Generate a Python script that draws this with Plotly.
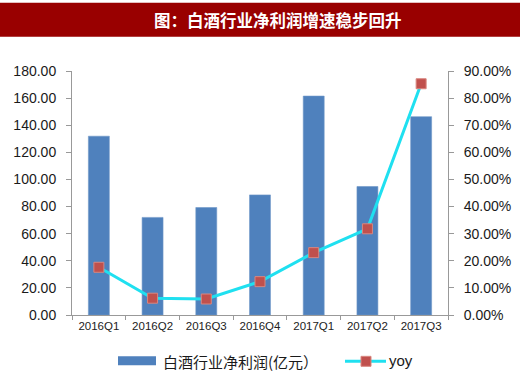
import plotly.graph_objects as go

categories = ["2016Q1", "2016Q2", "2016Q3", "2016Q4", "2017Q1", "2017Q2", "2017Q3"]
profit = [131.9, 72.0, 79.3, 88.6, 161.5, 94.8, 146.3]
yoy = [17.6, 6.2, 5.9, 12.3, 23.0, 31.8, 85.3]

title_text = "图：白酒行业净利润增速稳步回升"
bar_name = "白酒行业净利润(亿元）"
line_name = "yoy"

left_ticks = [0, 20, 40, 60, 80, 100, 120, 140, 160, 180]
right_ticks = [0, 10, 20, 30, 40, 50, 60, 70, 80, 90]

BAR_COLOR = "#4f81bd"
LINE_COLOR = "#1fe0f0"
MARK_COLOR = "#c0504d"

W, H = 520, 378
L, R, T, B = 72, 72, 70.5, 62.5
pw, ph = W - L - R, H - T - B

def px_x(x):
    return (x - L) / pw

def px_y(y):
    return (H - B - y) / ph

fig = go.Figure()
fig.add_trace(go.Bar(
    x=categories, y=profit, name=bar_name,
    marker=dict(color=BAR_COLOR, line=dict(color="#6f97c8", width=0.6)),
    yaxis="y",
))
fig.add_trace(go.Scatter(
    x=categories, y=yoy, name=line_name, mode="lines+markers",
    line=dict(color=LINE_COLOR, width=3),
    marker=dict(symbol="square", size=10, color=MARK_COLOR, line=dict(color="#d9867f", width=1)),
    yaxis="y2",
))

axis_font = dict(family="Arial, Liberation Sans", size=14, color="#1a1a1a")
leg_y = 362
shapes = [
    dict(type="rect", xref="paper", yref="paper",
         x0=px_x(0), x1=px_x(W), y0=px_y(36), y1=px_y(2),
         fillcolor="#990000", line=dict(width=0), layer="below"),
    # legend: bar swatch
    dict(type="rect", xref="paper", yref="paper",
         x0=px_x(118), x1=px_x(156), y0=px_y(366), y1=px_y(357),
         fillcolor=BAR_COLOR, line=dict(width=0)),
    # legend: line swatch
    dict(type="line", xref="paper", yref="paper",
         x0=px_x(345), x1=px_x(386), y0=px_y(leg_y), y1=px_y(leg_y),
         line=dict(color=LINE_COLOR, width=3)),
    dict(type="rect", xref="paper", yref="paper",
         x0=px_x(361), x1=px_x(371), y0=px_y(leg_y + 5), y1=px_y(leg_y - 5),
         fillcolor=MARK_COLOR, line=dict(color="#d9867f", width=1)),
]
annotations = [
    dict(text=f"<b>{title_text}</b>", xref="paper", yref="paper",
         x=px_x(278), y=px_y(19), xanchor="center", yanchor="middle",
         showarrow=False,
         font=dict(family="Noto Sans CJK SC", size=16.5, color="white")),
    dict(text=bar_name, xref="paper", yref="paper",
         x=px_x(161), y=px_y(leg_y), xanchor="left", yanchor="middle",
         showarrow=False,
         font=dict(family="Noto Sans CJK SC", size=15, color="#1a1a1a")),
    dict(text=line_name, xref="paper", yref="paper",
         x=px_x(387), y=px_y(leg_y - 1), xanchor="left", yanchor="middle",
         showarrow=False,
         font=dict(family="Arial, Liberation Sans", size=15, color="#1a1a1a")),
]

fig.update_layout(
    width=W, height=H,
    margin=dict(l=L, r=R, t=T, b=B, pad=0, autoexpand=False),
    paper_bgcolor="white", plot_bgcolor="white",
    bargap=0.61,
    showlegend=False,
    xaxis=dict(
        type="category", showline=True, linecolor="#999", linewidth=1,
        ticks="outside", ticklen=4, tickcolor="#999", tickson="boundaries",
        tickfont=dict(family="Arial, Liberation Sans", size=11.5, color="#222"),
        showgrid=False, zeroline=False, automargin=False,
    ),
    yaxis=dict(
        range=[0, 180], tickvals=left_ticks,
        ticktext=[f"{v:.2f}" for v in left_ticks],
        showline=True, linecolor="#999", linewidth=1,
        ticks="outside", ticklen=5, tickcolor="#999", ticklabelstandoff=7,
        tickfont=axis_font, showgrid=False, zeroline=False, automargin=False,
    ),
    yaxis2=dict(
        range=[0, 90], tickvals=right_ticks,
        ticktext=[f"{v:.2f}%" for v in right_ticks],
        overlaying="y", side="right",
        showline=True, linecolor="#999", linewidth=1,
        ticks="outside", ticklen=5, tickcolor="#999", ticklabelstandoff=7,
        tickfont=axis_font, showgrid=False, zeroline=False, automargin=False,
    ),
    shapes=shapes,
    annotations=annotations,
)

fig.write_html("out.html", config={"displayModeBar": False},
               post_script="document.body.style.margin='0';")
